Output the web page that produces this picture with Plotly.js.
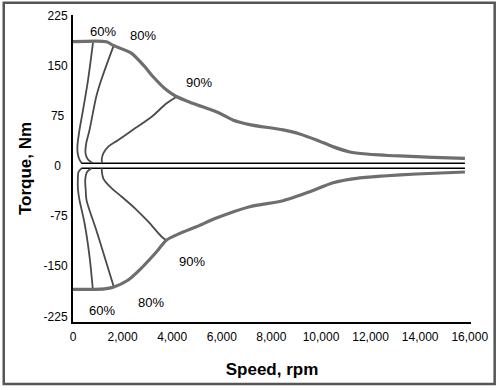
<!DOCTYPE html>
<html>
<head>
<meta charset="utf-8">
<script src="https://cdn.plot.ly/plotly-3.0.1.min.js"></script>
<style>
html,body{margin:0;padding:0;background:#fff;}
#chart{width:501px;height:390px;}
</style>
</head>
<body>
<div id="chart"></div>
<script>
// Torque envelope (motoring / generating)
var upperSpeed  = [0, 1350, 1595, 2350, 2886, 3222, 3763, 4166, 4824, 5914, 6440, 7125, 8470, 9145, 9818, 10476, 11163, 11837, 13180, 14513, 15805];
var upperTorque = [186, 186, 181, 169, 149, 134, 114, 104, 94, 79, 69, 62, 54, 48, 39, 29, 21, 18, 15, 13, 11.5];
var lowerSpeed  = [0, 800, 1270, 1647, 2212, 2753, 3088, 3423, 3763, 4300, 4974, 5781, 7125, 8470, 9548, 10488, 11433, 12507, 13855, 15805];
var lowerTorque = [-184.6, -184.6, -184, -181, -171, -153, -140, -126, -111, -101, -91, -78, -61, -52, -38.5, -25, -18.4, -15, -12, -9];

// Efficiency contours (upper half)
var eff60UpSpeed  = [807, 606, 404, 262, 182, 182, 242, 343];
var eff60UpTorque = [184.6, 128.7, 83.8, 53.9, 31.4, 21, 11.2, 4.5];
var eff80UpSpeed  = [1647, 1138, 937, 666, 533, 505, 597, 787];
var eff80UpTorque = [181, 128.7, 103.7, 53.9, 34, 19, 10, 4.5];
var eff90UpSpeed  = [4182, 3779, 3174, 2500, 1827, 1424, 1222, 1157, 1182];
var eff90UpTorque = [103.7, 93.9, 73.8, 56.4, 38.9, 28.9, 19, 9, 4.5];

// Efficiency contours (lower half)
var eff60LoSpeed  = [343, 222, 194, 202, 262, 464, 666, 800];
var eff60LoTorque = [-3.4, -9, -21, -36, -51, -85.3, -135.3, -184.6];
var eff80LoSpeed  = [747, 565, 493, 513, 545, 937, 1272, 1647];
var eff80LoTorque = [-3.4, -9, -21, -36, -51, -95.8, -135.8, -181];
var eff90LoSpeed  = [1157, 1222, 1492, 1964, 2500, 3037, 3577, 3763];
var eff90LoTorque = [-3.4, -18.4, -31, -46, -63.3, -83.4, -105.9, -111];

// Zero-torque lines
var zeroSpeed = [331, 15805];
var zeroUpper = [4, 4];
var zeroLower = [-3.4, -3.4];

// Axis ticks
var xTickVals = [0, 2000, 4000, 6000, 8000, 10000, 12000, 14000, 16000];
var xTickText = ["0", "2,000", "4,000", "6,000", "8,000", "10,000", "12,000", "14,000", "16,000"];
var yTickVals = [225, 150, 75, 0, -75, -150, -225];
var yTickText = ["225", "150", "75\u00a0", "0\u00a0\u00a0", "-75", "-150", "-225"];

var envLine = {color: '#6e6e6e', width: 3.2};
var effLine = {color: '#4a4a4a', width: 1.8};
var zLine = {color: '#000000', width: 1.5};

function tr(x, y, line, shape, sm) {
  return {x: x, y: y, type: 'scatter', mode: 'lines',
          line: Object.assign({shape: shape || 'spline', smoothing: sm || 0.8}, line), hoverinfo: 'skip'};
}

var data = [
  tr(zeroSpeed, zeroUpper, zLine, 'linear'),
  tr(zeroSpeed, zeroLower, zLine, 'linear'),
  tr(eff60UpSpeed, eff60UpTorque, effLine),
  tr(eff80UpSpeed, eff80UpTorque, effLine),
  tr(eff90UpSpeed, eff90UpTorque, effLine, 'spline', 1),
  tr(eff60LoSpeed, eff60LoTorque, effLine),
  tr(eff80LoSpeed, eff80LoTorque, effLine),
  tr(eff90LoSpeed, eff90LoTorque, effLine, 'spline', 1),
  tr(upperSpeed, upperTorque, envLine, 'spline', 0.7),
  tr(lowerSpeed, lowerTorque, envLine, 'spline', 0.7)
];

var labFont = {family: 'Liberation Sans, Arial, sans-serif', size: 13, color: '#000'};
function lab(x, y, t) {
  return {x: x, y: y, xref: 'x', yref: 'y', text: t, showarrow: false, font: labFont, xanchor: 'center', yanchor: 'middle'};
}

var layout = {
  width: 501, height: 390,
  margin: {l: 73, r: 30, t: 15, b: 68, pad: 0},
  paper_bgcolor: '#ffffff', plot_bgcolor: '#ffffff',
  showlegend: false, hovermode: false,
  font: {family: 'Liberation Sans, Arial, sans-serif', size: 12, color: '#000'},
  xaxis: {
    range: [0, 16050], showgrid: false, zeroline: false,
    showline: true, linecolor: '#000', linewidth: 2,
    ticks: '', tickmode: 'array', tickvals: xTickVals, ticktext: xTickText,
    tickfont: {size: 12, color: '#000'}, ticklabelstandoff: 3,
    title: {text: 'Speed, rpm', font: {size: 17, color: '#000', weight: 'bold'}, standoff: 20}
  },
  yaxis: {
    range: [-233.5, 226], showgrid: false, zeroline: false,
    showline: true, linecolor: '#000', linewidth: 2,
    ticks: '', tickmode: 'array', tickvals: yTickVals, ticktext: yTickText,
    tickfont: {size: 12, color: '#000'}, ticklabelstandoff: 1,
    title: {text: 'Torque, Nm', font: {size: 17, color: '#000', weight: 'bold'}, standoff: 8}
  },
  annotations: [
    lab(1191, 202, '60%'),
    lab(2806, 194.6, '80%'),
    lab(5066, 125.7, '90%'),
    lab(4804, -143.3, '90%'),
    lab(3129, -203.6, '80%'),
    lab(1171, -215.6, '60%')
  ],
  shapes: [
    {type: 'rect', xref: 'paper', yref: 'paper', x0: -0.174, x1: 1.0595, y0: -0.202, y1: 1.0397,
     line: {color: '#555555', width: 2.5}, fillcolor: 'rgba(0,0,0,0)', layer: 'above'}
  ]
};

Plotly.newPlot('chart', data, layout, {staticPlot: true, displayModeBar: false});
</script>
</body>
</html>
